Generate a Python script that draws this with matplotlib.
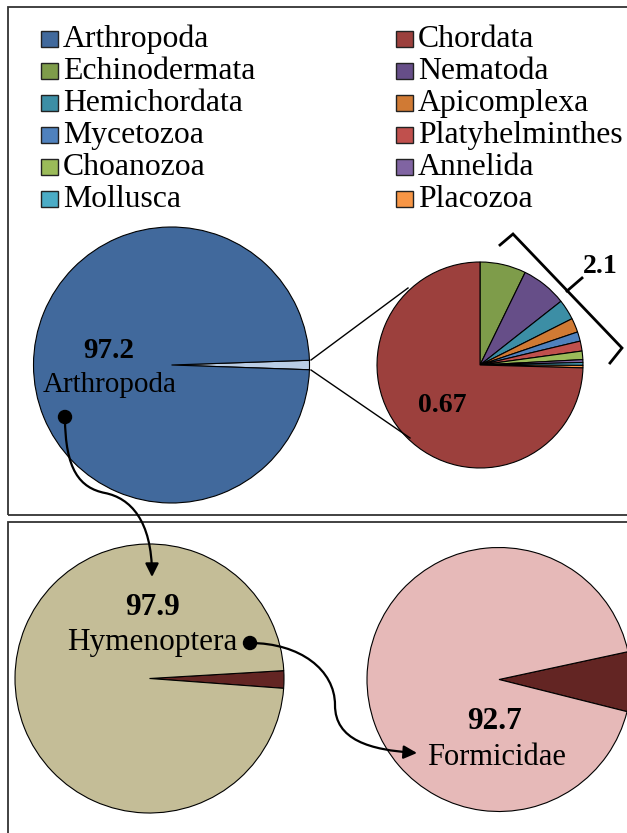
import matplotlib.pyplot as plt
from matplotlib.patches import Rectangle, Circle, FancyArrowPatch
from matplotlib.path import Path

W, H = 627, 833
FONT = "Liberation Serif"

# Legend phyla (row-wise order as in the figure)
phyla = ["Arthropoda", "Chordata", "Echinodermata", "Nematoda", "Hemichordata",
         "Apicomplexa", "Mycetozoa", "Platyhelminthes", "Choanozoa", "Annelida",
         "Mollusca", "Placozoa"]
phylum_colors = ["#41699c", "#9c403d", "#7e9c4a", "#664e88", "#3c8ea5", "#d07a34",
                 "#4f81bd", "#c0504d", "#9bbb59", "#8064a2", "#4bacc6", "#f79646"]
color_of = dict(zip(phyla, phylum_colors))

# Main pie: sliver of non-arthropods vs Arthropoda (drawn proportions)
main_shares = [1.1, 98.9]
main_value = "97.2"

# Exploded pie of the non-arthropod phyla (drawn proportions, clockwise from top)
minor_phyla = ["Echinodermata", "Nematoda", "Hemichordata", "Apicomplexa", "Mycetozoa",
               "Platyhelminthes", "Choanozoa", "Annelida", "Mollusca", "Placozoa",
               "Chordata"]
minor_shares = [26.0, 25.8, 11.5, 8.0, 5.3, 5.6, 4.8, 1.6, 1.6, 1.4, 268.4]
chordata_value = "0.67"
others_value = "2.1"

# Lower panel
hymenoptera_shares = [2.1, 97.9]
hymenoptera_value = "97.9"
formicidae_shares = [7.3, 92.7]
formicidae_value = "92.7"


def Y(y):
    return H - y


fig = plt.figure(figsize=(W / 100, H / 100), dpi=100)
ax = fig.add_axes([0, 0, 1, 1])

# panel frames
ax.add_patch(Rectangle((8, Y(515)), 700, 508, fill=False, ec="#333333", lw=1.3, zorder=1))
ax.add_patch(Rectangle((8, -20), 700, Y(522) + 20, fill=False, ec="#333333", lw=1.3, zorder=1))

wp = dict(edgecolor="black", linewidth=0.8)

# main pie
ax.pie(main_shares, colors=["#b9cde5", color_of["Arthropoda"]], startangle=-1.98,
       center=(171.5, Y(365)), radius=138, wedgeprops=wp, frame=True)

# exploded pie
ax.pie(minor_shares, colors=[color_of[p] for p in minor_phyla], startangle=90,
       counterclock=False, center=(480, Y(365)), radius=103, wedgeprops=wp, frame=True)

# connector lines
ax.plot([311, 408], [Y(360), Y(288)], color="black", lw=1.0)
ax.plot([311, 410], [Y(370), Y(438)], color="black", lw=1.0)

# bracket
bx = [500, 513, 622, 610]
by = [245, 234, 348, 363]
ax.plot(bx, [Y(v) for v in by], color="black", lw=2.0, solid_joinstyle="miter")
ax.plot([567, 582], [Y(291), Y(278)], color="black", lw=2.0)

# lower pies
ax.pie(hymenoptera_shares, colors=["#632523", "#c4bd97"], startangle=-4.2,
       center=(149.5, Y(678.5)), radius=134.5, wedgeprops=wp, frame=True)
ax.pie(formicidae_shares, colors=["#632523", "#e6b9b8"], startangle=-14.1,
       center=(499, Y(679.5)), radius=132, wedgeprops=wp, frame=True)

# texts
ax.text(109, Y(358), main_value, ha="center", va="baseline", fontsize=21,
        fontweight="bold", family=FONT)
ax.text(110, Y(392), "Arthropoda", ha="center", va="baseline", fontsize=21, family=FONT)
ax.text(442, Y(412), chordata_value, ha="center", va="baseline", fontsize=20,
        fontweight="bold", family=FONT)
ax.text(600, Y(273), others_value, ha="center", va="baseline", fontsize=20,
        fontweight="bold", family=FONT)
ax.text(152, Y(615), hymenoptera_value, ha="center", va="baseline", fontsize=22.5,
        fontweight="bold", family=FONT)
ax.text(152, Y(650), "Hymenoptera", ha="center", va="baseline", fontsize=22.5, family=FONT)
ax.text(495, Y(729), formicidae_value, ha="center", va="baseline", fontsize=22.5,
        fontweight="bold", family=FONT)
ax.text(497, Y(765), "Formicidae", ha="center", va="baseline", fontsize=22, family=FONT)

# dots and curved arrows
ax.add_patch(Circle((65, Y(417)), 6.5, color="black", zorder=5))
ax.add_patch(Circle((250, Y(643)), 6.5, color="black", zorder=5))

p1 = [(65, 417), (65, 470), (80, 488), (105, 493), (130, 498), (152, 520), (152, 577)]
p2 = [(250, 643), (300, 643), (335, 670), (335, 705), (335, 740), (370, 750), (417, 753)]
codes = [Path.MOVETO] + [Path.CURVE4] * 6
for pts in (p1, p2):
    path = Path([(x, Y(y)) for x, y in pts], codes)
    ax.add_patch(FancyArrowPatch(path=path, arrowstyle="-|>", mutation_scale=20,
                                 color="black", lw=1.6, zorder=5))

# legend
for i, name in enumerate(phyla):
    col, row = i % 2, i // 2
    x0 = [41, 396][col]
    yb = 47 + 32 * row
    ax.add_patch(Rectangle((x0, Y(yb)), 17, 16, fc=color_of[name], ec="#222222", lw=1.0))
    ax.text(x0 + 22, Y(yb), name, ha="left", va="baseline", fontsize=22.9, family=FONT)

ax.set_xlim(0, W)
ax.set_ylim(0, H)
ax.set_axis_off()
fig.savefig("out.png", dpi=100)
